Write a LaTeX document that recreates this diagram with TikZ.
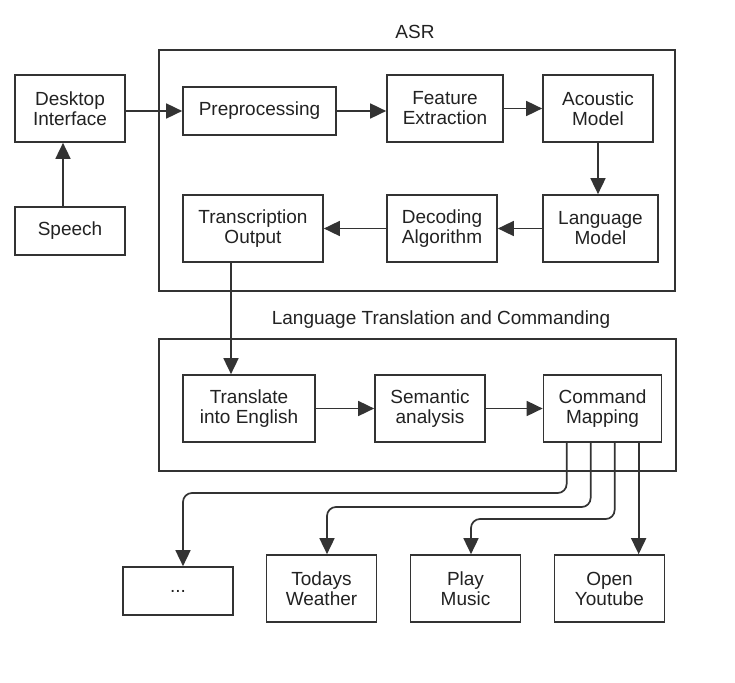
\documentclass[tikz,border=0pt]{standalone}
\usepackage{fontspec}
\setmainfont{Liberation Sans}
\usetikzlibrary{arrows.meta}
\definecolor{ln}{HTML}{333333}
\definecolor{tx}{HTML}{222222}
\begin{document}
\begin{tikzpicture}[x=1pt,y=-1pt,
  box/.style={draw=ln,line width=1.7pt,fill=white,align=center,inner sep=0pt,
    font=\fontsize{19}{20}\selectfont,text=tx},
  frame/.style={draw=ln,line width=1.7pt},
  arr/.style={draw=ln,line width=1.7pt,-{Triangle[length=16pt,width=15pt]}},
  lbl/.style={font=\fontsize{19}{20}\selectfont,text=tx}]
\useasboundingbox[fill=white] (0,0) rectangle (735,682);
% containers
\node[frame,minimum width=516,minimum height=241,inner sep=0pt] (asr) at (417,170.5) {};
\node[frame,minimum width=517,minimum height=132,inner sep=0pt] (ltc) at (417.5,405) {};
\node[lbl] (asrl) at (415,32) {ASR};
\node[lbl] (ltcl) at (441,320) {Language Translation and Commanding};
% nodes
\node[box,minimum width=110,minimum height=67] (di) at (70,108.5) {Desktop\\Interface};
\node[box,minimum width=110,minimum height=48] (sp) at (70,231) {Speech};
\node[box,minimum width=153,minimum height=48] (pre) at (259.5,111) {Preprocessing};
\node[box,minimum width=116,minimum height=67] (fe) at (445,108.5) {Feature\\Extraction};
\node[box,minimum width=110,minimum height=67] (am) at (598,108.5) {Acoustic\\Model};
\node[box,minimum width=115,minimum height=67] (lm) at (600.5,228.5) {Language\\Model};
\node[box,minimum width=110,minimum height=67] (da) at (442,228.5) {Decoding\\Algorithm};
\node[box,minimum width=140,minimum height=67] (to) at (253,228.5) {Transcription\\Output};
\node[box,minimum width=132,minimum height=67] (tr) at (249,408.5) {Translate\\into English};
\node[box,minimum width=110,minimum height=67] (sa) at (430,408.5) {Semantic\\analysis};
\node[box,minimum width=118,minimum height=67] (cm) at (602.5,408.5) {Command\\Mapping};
\node[box,minimum width=110,minimum height=48] (dots) at (178,591) {...};
\node[box,minimum width=110,minimum height=67] (tw) at (321.5,588.5) {Todays\\Weather};
\node[box,minimum width=110,minimum height=67] (pm) at (465.5,588.5) {Play\\Music};
\node[box,minimum width=110,minimum height=67] (oy) at (609.5,588.5) {Open\\Youtube};
% connectors
\draw[arr] ([xshift=-7pt]sp.north) -- ([xshift=-7pt]di.south);
\draw[arr] (di.east |- pre.west) -- (pre.west);
\draw[arr] (pre.east) -- (pre.east -| fe.west);
\draw[arr] (fe.east) -- (am.west);
\draw[arr] (am.south) -- (am.south |- lm.north);
\draw[arr] (lm.west) -- (da.east);
\draw[arr] (da.west) -- (to.west -| to.east);
\draw[arr] ([xshift=-22pt]to.south) -- ([xshift=-18pt]tr.north);
\draw[arr] (tr.east) -- (sa.west);
\draw[arr] (sa.east) -- (cm.west);
\coordinate (c1) at ([xshift=24pt]cm.south west);
\coordinate (c2) at ([xshift=48pt]cm.south west);
\coordinate (c3) at ([xshift=72pt]cm.south west);
\coordinate (c4) at ([xshift=96pt]cm.south west);
\draw[arr,rounded corners=9pt] (c1) -- (c1 |- 0,493) -- ([xshift=5pt]dots.north |- 0,493) -- ([xshift=5pt]dots.north);
\draw[arr,rounded corners=9pt] (c2) -- (c2 |- 0,507) -- ([xshift=5.5pt]tw.north |- 0,507) -- ([xshift=5.5pt]tw.north);
\draw[arr,rounded corners=9pt] (c3) -- (c3 |- 0,519) -- ([xshift=5.5pt]pm.north |- 0,519) -- ([xshift=5.5pt]pm.north);
\draw[arr] (c4) -- (c4 |- oy.north);
\end{tikzpicture}
\end{document}
